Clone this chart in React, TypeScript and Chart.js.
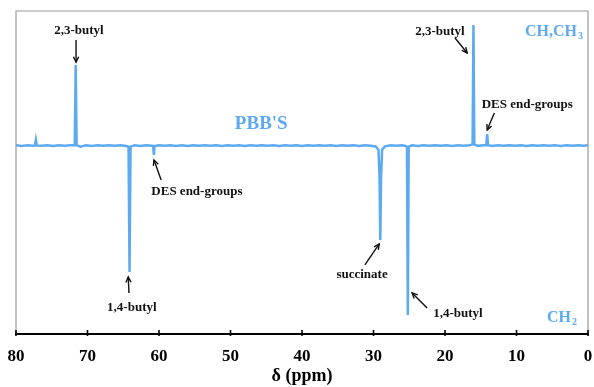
import React, { useEffect, useRef } from "react";
import { Chart, registerables } from "chart.js";

Chart.register(...registerables);

// Spectrum (ppm, intensity) — DEPT-135 style: CH/CH3 up, CH2 down
const spectrumPpm = [
  80.0, 79.2, 78.4, 77.6, 77.35, 77.22, 77.1, 76.4, 75.6, 74.8, 74.0, 73.2, 72.4,
  71.78, 71.65, 71.52, 71.0, 70.2, 69.4, 68.6, 67.8, 67.0, 66.2, 65.4, 64.6,
  64.26, 64.12, 63.98, 63.4, 62.6, 61.8, 61.0, 60.82, 60.72, 60.62, 60.0, 59.2,
  58.4, 57.6, 56.8, 56.0, 55.2, 54.4, 53.6, 52.8, 52.0, 51.2, 50.4, 49.6, 48.8,
  48.0, 47.2, 46.4, 45.6, 44.8, 44.0, 43.2, 42.4, 41.6, 40.8, 40.0, 39.2, 38.4,
  37.6, 36.8, 36.0, 35.2, 34.4, 33.6, 32.8, 32.0, 31.2, 30.4, 29.7, 29.3, 29.15,
  29.05, 28.95, 28.8, 28.4, 27.6, 26.8, 26.0, 25.5, 25.32, 25.2, 25.08, 24.6,
  23.8, 23.0, 22.2, 21.4, 20.6, 19.8, 19.0, 18.2, 17.4, 16.6, 16.14, 16.02, 15.9,
  15.4, 14.6, 14.22, 14.1, 13.98, 13.4, 12.6, 11.8, 11.0, 10.2, 9.4, 8.6, 7.8,
  7.0, 6.2, 5.4, 4.6, 3.8, 3.0, 2.2, 1.4, 0.6, 0.0,
];
const spectrumInt = [
  0.002, -0.003, 0.003, -0.002, 0.001, 0.042, 0.001, -0.002, 0.003, -0.003, 0.002, -0.002, 0.003,
  0.003, 0.599, 0.003, -0.008, 0.002, -0.003, 0.003, -0.002, 0.003, -0.002, 0.002, -0.003,
  -0.008, -0.939, -0.008, 0.002, -0.003, 0.003, -0.002, -0.003, -0.07, -0.003, 0.003, -0.002,
  0.003, -0.003, 0.002, -0.003, 0.003, -0.001, 0.003, -0.002, 0.002, -0.003, 0.003, -0.002, 0.003,
  -0.003, 0.002, -0.002, 0.003, -0.002, 0.003, -0.003, 0.002, -0.001, 0.003, -0.003, 0.002, -0.002,
  0.003, -0.002, 0.003, -0.003, 0.002, -0.002, 0.003, -0.003, 0.002, -0.002, -0.006, -0.03, -0.25,
  -0.701, -0.25, -0.03, -0.006, 0.003, -0.002, 0.002, -0.003, -0.008, -1.258, -0.008, 0.002,
  -0.003, 0.003, -0.002, 0.003, -0.002, 0.003, -0.003, 0.002, -0.002, 0.003, 0.008, 0.896, 0.008,
  -0.002, 0.003, 0.003, 0.086, 0.003, -0.003, 0.003, -0.002, 0.003, -0.002, 0.003, -0.003, 0.002,
  -0.002, 0.003, -0.002, 0.003, -0.003, 0.002, -0.002, 0.003, -0.002, 0.002,
];

const xTicks = [80, 70, 60, 50, 40, 30, 20, 10, 0];

// Peak annotations
const labelTexts = ["2,3-butyl", "2,3-butyl", "DES end-groups", "DES end-groups", "1,4-butyl", "succinate", "1,4-butyl"];
const labelPpm = [71.2, 20.7, 8.5, 54.7, 63.8, 31.6, 18.2];
const labelInt = [0.851, 0.844, 0.302, -0.345, -1.207, -0.961, -1.251];
const arrowFromPpm = [71.6, 18.6, 13.1, 59.7, 64.2, 31.2, 22.5];
const arrowFromInt = [0.784, 0.799, 0.242, -0.256, -1.095, -0.887, -1.207];
const arrowToPpm = [71.6, 16.9, 14.1, 60.7, 64.3, 29.2, 24.6];
const arrowToInt = [0.62, 0.688, 0.116, -0.107, -0.976, -0.731, -1.095];

const sampleName = "PBB'S";
const sampleNamePpm = 45.7;
const sampleNameInt = 0.16;

const BLUE = "#5caaf0";
const SERIF = '"Liberation Serif", "Times New Roman", serif';

const decorPlugin = {
  id: "decor",
  afterDraw(chart: any) {
    const { ctx, chartArea, scales } = chart;
    const xs = scales.x;
    const ys = scales.y;
    const px = (v: number) => xs.getPixelForValue(v);
    const py = (v: number) => ys.getPixelForValue(v);
    ctx.save();
    // frame (top, left, right)
    ctx.strokeStyle = "#9a9a9a";
    ctx.lineWidth = 1.2;
    ctx.beginPath();
    ctx.moveTo(chartArea.left, chartArea.bottom);
    ctx.lineTo(chartArea.left, chartArea.top);
    ctx.lineTo(chartArea.right, chartArea.top);
    ctx.lineTo(chartArea.right, chartArea.bottom);
    ctx.stroke();
    // inward ticks
    ctx.strokeStyle = "#000";
    ctx.lineWidth = 1.6;
    xTicks.forEach((t) => {
      const x = px(t);
      ctx.beginPath();
      ctx.moveTo(x, chartArea.bottom - 4);
      ctx.lineTo(x, chartArea.bottom + 2);
      ctx.stroke();
    });
    // labels
    ctx.fillStyle = "#111";
    ctx.font = `bold 13px ${SERIF}`;
    ctx.textAlign = "center";
    ctx.textBaseline = "middle";
    labelTexts.forEach((t, i) => {
      ctx.fillText(t, px(labelPpm[i]), py(labelInt[i]));
    });
    // arrows
    ctx.strokeStyle = "#111";
    ctx.lineWidth = 1.4;
    labelTexts.forEach((_, i) => {
      const x1 = px(arrowFromPpm[i]);
      const y1 = py(arrowFromInt[i]);
      const x2 = px(arrowToPpm[i]);
      const y2 = py(arrowToInt[i]);
      ctx.beginPath();
      ctx.moveTo(x1, y1);
      ctx.lineTo(x2, y2);
      ctx.stroke();
      const a = Math.atan2(y2 - y1, x2 - x1);
      const h = 6;
      ctx.beginPath();
      ctx.moveTo(x2 - h * Math.cos(a - 0.45), y2 - h * Math.sin(a - 0.45));
      ctx.lineTo(x2, y2);
      ctx.lineTo(x2 - h * Math.cos(a + 0.45), y2 - h * Math.sin(a + 0.45));
      ctx.stroke();
    });
    // sample name
    ctx.fillStyle = BLUE;
    ctx.font = `bold 19px ${SERIF}`;
    ctx.fillText(sampleName, px(sampleNamePpm), py(sampleNameInt));
    // CH,CH3 (top right)
    ctx.textAlign = "left";
    ctx.textBaseline = "alphabetic";
    const main = `bold 16px ${SERIF}`;
    const sub = `bold 10px ${SERIF}`;
    ctx.font = main;
    const w1 = ctx.measureText("CH,CH").width;
    ctx.font = sub;
    const w2 = ctx.measureText("3").width;
    const rx = chartArea.right - 5;
    const ty = chartArea.top + 25;
    ctx.font = main;
    ctx.fillText("CH,CH", rx - w1 - w2 - 1, ty);
    ctx.font = sub;
    ctx.fillText("3", rx - w2, ty + 3);
    // CH2 (bottom right)
    ctx.font = main;
    const w3 = ctx.measureText("CH").width;
    ctx.font = sub;
    const w4 = ctx.measureText("2").width;
    const by = chartArea.bottom - 12;
    ctx.font = main;
    ctx.fillText("CH", rx - 6 - w3 - w4 - 1, by);
    ctx.font = sub;
    ctx.fillText("2", rx - 6 - w4, by + 3);
    ctx.restore();
  },
};

export default function App() {
  const ref = useRef<HTMLCanvasElement | null>(null);
  useEffect(() => {
    document.body.style.margin = "0";
    if (!ref.current) return;
    const points = spectrumPpm.map((p, i) => ({ x: p, y: spectrumInt[i] }));
    const chart = new Chart(ref.current, {
      type: "line",
      data: {
        datasets: [
          {
            data: points,
            borderColor: BLUE,
            borderWidth: 2.5,
            pointRadius: 0,
            tension: 0,
            fill: false,
          },
        ],
      },
      options: {
        animation: false,
        responsive: false,
        devicePixelRatio: 1,
        layout: { padding: { left: 16, right: 6, top: 11, bottom: 0 } },
        plugins: { legend: { display: false }, tooltip: { enabled: false } },
        scales: {
          x: {
            type: "linear",
            min: 0,
            max: 80,
            reverse: true,
            afterFit: (s: any) => {
              s.height = 53;
              s.paddingLeft = 0;
              s.paddingRight = 0;
            },
            afterBuildTicks: (s: any) => {
              s.ticks = xTicks.map((v) => ({ value: v }));
            },
            ticks: {
              color: "#000",
              font: { family: SERIF, size: 17, weight: "bold" },
              padding: 12,
              maxRotation: 0,
              autoSkip: false,
            },
            grid: { display: false, drawTicks: false },
            border: { display: true, color: "#000", width: 2 },
            title: {
              display: true,
              text: "δ (ppm)",
              color: "#000",
              font: { family: SERIF, size: 18, weight: "bold" },
              padding: { top: 0, bottom: 0 },
            },
          },
          y: { display: false, min: -1.4, max: 1.0 },
        },
      },
      plugins: [decorPlugin],
    } as any);
    return () => chart.destroy();
  }, []);
  return <canvas ref={ref} width={594} height={387} style={{ display: "block" }} />;
}
